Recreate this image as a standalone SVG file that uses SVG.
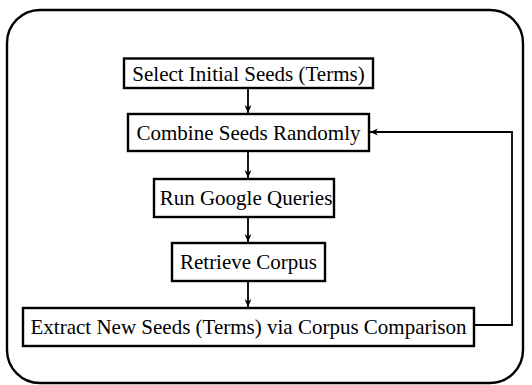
<svg xmlns="http://www.w3.org/2000/svg" width="532" height="385" viewBox="0 0 532 385">
<style>
.box{fill:#fff;stroke:#000;stroke-width:2.4}
.t{font-family:"Liberation Serif","Times New Roman",serif;font-size:21px;fill:#000;text-anchor:middle;dominant-baseline:central}
.c{fill:none;stroke:#000;stroke-width:1.8}
</style>
<defs>
<marker id="ah" markerWidth="10" markerHeight="10" refX="9" refY="5" orient="auto" markerUnits="userSpaceOnUse">
<path d="M1,1.5 L9,5 L1,8.5 L3.5,5 Z" fill="#000"/>
</marker>
</defs>
<rect x="7" y="10" width="516" height="373" rx="33" ry="33" fill="#fff" stroke="#000" stroke-width="2.4"/>
<g id="n1"><rect class="box" x="124" y="58.5" width="249" height="29.5"/><text class="t" x="248.5" y="74">Select Initial Seeds (Terms)</text></g>
<g id="n2"><rect class="box" x="128" y="114" width="241" height="37"/><text class="t" x="248.5" y="132.5">Combine Seeds Randomly</text></g>
<g id="n3"><rect class="box" x="154" y="179" width="180" height="38"/><text class="t" x="246" y="198">Run Google Queries</text></g>
<g id="n4"><rect class="box" x="172" y="243" width="153" height="38"/><text class="t" x="248.5" y="262">Retrieve Corpus</text></g>
<g id="n5"><rect class="box" x="23" y="308" width="451" height="38"/><text class="t" x="248.5" y="327">Extract New Seeds (Terms) via Corpus Comparison</text></g>
<g id="connectors">
<path class="c" d="M248 88 V113" marker-end="url(#ah)"/>
<path class="c" d="M248 151 V178" marker-end="url(#ah)"/>
<path class="c" d="M248 217 V242" marker-end="url(#ah)"/>
<path class="c" d="M248 281 V307" marker-end="url(#ah)"/>
<path class="c" d="M474 325 H512 V132 H370" marker-end="url(#ah)"/>
</g>
</svg>
